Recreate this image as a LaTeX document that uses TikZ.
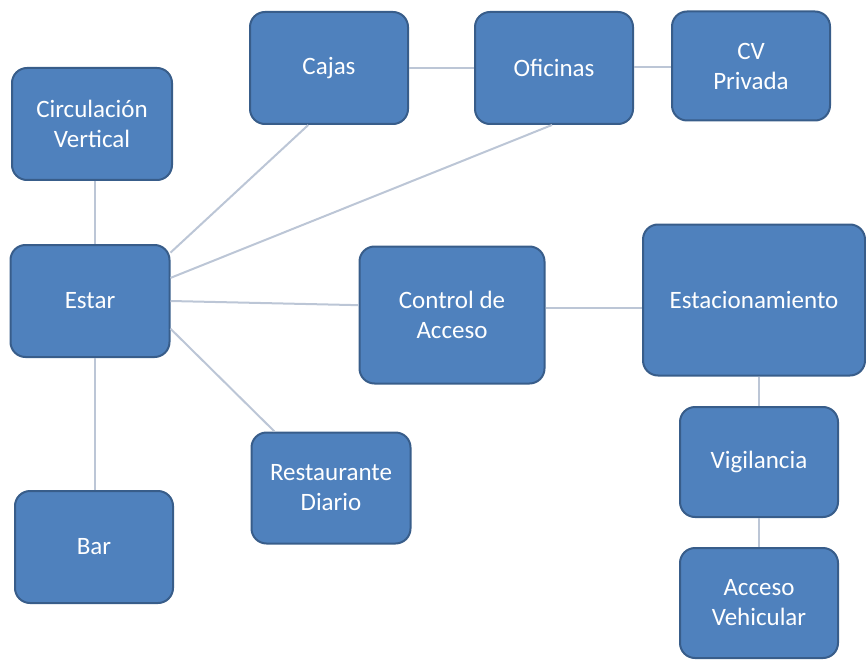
\documentclass[tikz,border=0pt]{standalone}
\usepackage{fontspec}
\setmainfont{Carlito}
\usetikzlibrary{calc}
\definecolor{boxfill}{RGB}{79,129,189}
\definecolor{boxline}{RGB}{56,93,138}
\definecolor{linkline}{RGB}{188,198,214}
\begin{document}
\begin{tikzpicture}[x=1pt, y=-1pt,
    box/.style={draw=boxline, fill=boxfill, line width=2pt, rounded corners=15pt,
        text=white, align=center, inner sep=0pt, minimum width=158pt, minimum height=112pt,
        font=\fontsize{25}{30}\selectfont},
    link/.style={draw=linkline, line width=2pt}]
    % frame
    \useasboundingbox (0,0) rectangle (866,660);
    % left column
    \node[box, minimum width=160pt](circ)at(92,124){Circulaci\'on\\Vertical};
    \node[box, minimum width=159pt](estar)at(90,301){Estar};
    \node[box](bar)at(94,547){Bar};
    % top row
    \node[box](cajas)at(329,68){Cajas};
    \node[box](ofic)at(554,68){Oficinas};
    \node[box, minimum height=109pt](cv)at(751,66){CV\\Privada};
    % middle
    \node[box, minimum width=185pt, minimum height=137pt](control)at(452,315){Control de\\Acceso};
    \node[box, minimum width=159pt, minimum height=111pt](rest)at(331,488){Restaurante\\Diario};
    % right column
    \node[box, minimum width=222pt, minimum height=151pt](estac)at(754,300){Estacionamiento};
    \node[box, minimum height=110pt](vig)at(759,462){Vigilancia};
    \node[box, minimum height=110pt](acc)at(759,603){Acceso\\Vehicular};
    % links from estar
    \path[link]($(circ.south)+(3,0)$)to($(estar.north)+(5,0)$);
    \path[link]($(estar.south)+(5,0)$)to($(bar.north)+(1,0)$);
    \path[link](estar.31)to(cajas.250);
    \path[link](estar.16)to(ofic.268);
    \path[link](estar.east)to(control.174);
    \path[link](estar.-19)to(rest.135);
    % links between the others
    \path[link](cajas.east)to(ofic.west);
    \path[link]($(ofic.east)+(0,-1)$)to($(cv.west)+(0,1)$);
    \path[link](control.east|-0,308)to(estac.west|-0,308);
    \path[link](vig.north|-estac.south)to(vig.north);
    \path[link](vig.south)to(acc.north);
\end{tikzpicture}
\end{document}
